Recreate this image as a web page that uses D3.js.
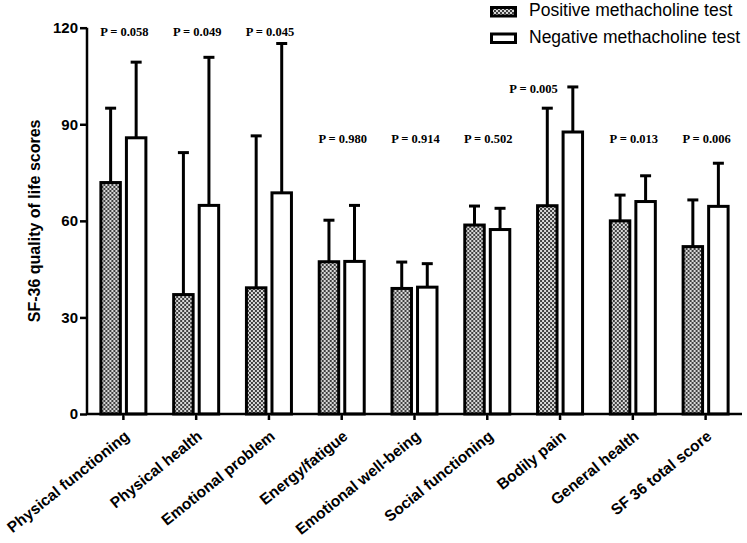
<!DOCTYPE html>
<html><head><meta charset="utf-8">
<script src="https://cdn.jsdelivr.net/npm/d3@7"></script>
<style>body{margin:0;background:#fff}svg{display:block}</style>
</head><body>
<svg id="c" width="747" height="543"></svg>
<script>
const categories = ["Physical functioning","Physical health","Emotional problem","Energy/fatigue","Emotional well-being","Social functioning","Bodily pain","General health","SF 36 total score"];
const positiveMean = [71.9, 37.1, 39.2, 47.3, 39.0, 58.7, 64.7, 60.0, 52.0];
const positiveSD   = [23.1, 44.1, 47.2, 12.9, 8.2, 5.9, 30.3, 8.0, 14.5];
const negativeMean = [85.8, 64.8, 68.7, 47.4, 39.4, 57.3, 87.6, 66.0, 64.5];
const negativeSD   = [23.5, 46.0, 46.4, 17.4, 7.3, 6.6, 14.0, 8.0, 13.4];
const pValues = ["P = 0.058","P = 0.049","P = 0.045","P = 0.980","P = 0.914","P = 0.502","P = 0.005","P = 0.013","P = 0.006"];
const pLevels = [118.4, 118.4, 118.4, 85.1, 85.1, 85.1, 100.6, 85.1, 85.1];
const yTicks = [0, 30, 60, 90, 120];
const seriesNames = ["Positive methacholine test","Negative methacholine test"];

const svg = d3.select("#c");
const defs = svg.append("defs");
const pat = defs.append("pattern").attr("id","chk").attr("patternUnits","userSpaceOnUse").attr("width",4).attr("height",4);
pat.append("rect").attr("width",4).attr("height",4).attr("fill","#d8d8d8");
pat.append("rect").attr("width",2).attr("height",2).attr("fill","#404040");
pat.append("rect").attr("x",2).attr("y",2).attr("width",2).attr("height",2).attr("fill","#404040");

const x = d3.scaleBand().domain(categories).range([87, 742]).padding(0);
const y = d3.scaleLinear().domain([0,120]).range([414, 27.7]);
const sub = d3.scaleBand().domain([0,1]).range([-24, 24]).paddingInner(0.12).paddingOuter(0);

const data = categories.map((c,i)=>({c,i,vals:[{s:0,m:positiveMean[i],sd:positiveSD[i]},{s:1,m:negativeMean[i],sd:negativeSD[i]}]}));

const g = svg.append("g");
const groups = g.selectAll("g.cat").data(data).join("g").attr("class","cat")
  .attr("transform",d=>`translate(${x(d.c)+x.bandwidth()/2},0)`);

const bw = sub.bandwidth();
groups.selectAll("line.err").data(d=>d.vals).join("line").attr("class","err")
  .attr("x1",v=>sub(v.s)+bw/2).attr("x2",v=>sub(v.s)+bw/2)
  .attr("y1",v=>y(v.m)).attr("y2",v=>y(v.m+v.sd))
  .attr("stroke","#000").attr("stroke-width",3);
groups.selectAll("line.cap").data(d=>d.vals).join("line").attr("class","cap")
  .attr("x1",v=>sub(v.s)+bw/2-5.5).attr("x2",v=>sub(v.s)+bw/2+5.5)
  .attr("y1",v=>y(v.m+v.sd)).attr("y2",v=>y(v.m+v.sd))
  .attr("stroke","#000").attr("stroke-width",3);
groups.selectAll("rect.bar").data(d=>d.vals).join("rect").attr("class","bar")
  .attr("x",v=>sub(v.s)+1.5).attr("width",bw-3)
  .attr("y",v=>y(v.m)).attr("height",v=>y(0)-y(v.m))
  .attr("fill",v=>v.s===0?"url(#chk)":"#fff")
  .attr("stroke","#000").attr("stroke-width",3);

// P values: centred on the category, unless the label's level cuts through an error bar
// (then it is set just left of the taller error bar)
function pBlocked(d){ return d.vals[1].m + d.vals[1].sd > pLevels[d.i] && d.vals[1].m < pLevels[d.i]; }
g.selectAll("text.p").data(data).join("text").attr("class","p")
  .attr("x",d=>{
    const cx = x(d.c)+x.bandwidth()/2;
    return pBlocked(d) ? cx + sub(1) + bw/2 - 15 : cx + 1;
  })
  .attr("y",d=>y(pLevels[d.i]))
  .attr("text-anchor",d=>pBlocked(d)?"end":"middle")
  .attr("dominant-baseline","middle")
  .attr("font-family","Liberation Serif, Times New Roman, serif").attr("font-weight","bold").attr("font-size",12.5)
  .text(d=>pValues[d.i]);

// axes
const yAxis = d3.axisLeft(y).tickValues(yTicks).tickSize(7).tickPadding(2);
const ya = svg.append("g").attr("transform","translate(87,0)").call(yAxis);
ya.select(".domain").attr("stroke","#000").attr("stroke-width",2.5).attr("d",`M0,${y(0)}V${y(120)}`);
ya.selectAll(".tick line").attr("stroke","#000").attr("stroke-width",2.5);
ya.selectAll(".tick text").attr("font-family","Liberation Sans, Arial, sans-serif").attr("font-weight","bold").attr("font-size",15).attr("fill","#000");

const xAxis = d3.axisBottom(x).tickSize(6).tickFormat("");
const xa = svg.append("g").attr("transform",`translate(0,${y(0)})`).call(xAxis);
xa.select(".domain").attr("stroke","#000").attr("stroke-width",2.5).attr("d","M87,0H742");
xa.selectAll(".tick line").attr("stroke","#000").attr("stroke-width",2.5);

svg.append("g").selectAll("text.xl").data(categories).join("text").attr("class","xl")
  .attr("transform",c=>`translate(${x(c)+x.bandwidth()/2+7},${y(0)+24}) rotate(-39)`)
  .attr("text-anchor","end")
  .attr("font-family","Liberation Sans, Arial, sans-serif").attr("font-weight","bold").attr("font-size",15.5)
  .text(c=>c);

svg.append("text").attr("transform",`translate(40,${(y(0)+y(120))/2}) rotate(-90)`)
  .attr("text-anchor","middle")
  .attr("font-family","Liberation Sans, Arial, sans-serif").attr("font-weight","bold").attr("font-size",16)
  .text("SF-36 quality of life scores");

// legend
const leg = svg.append("g");
seriesNames.forEach((n,i)=>{
  const yy = 11.5 + i*26.5;
  leg.append("rect").attr("x",491.5).attr("y",yy-4).attr("width",24).attr("height",8.5)
    .attr("fill",i===0?"url(#chk)":"#fff").attr("stroke","#000").attr("stroke-width",3);
  leg.append("text").attr("x",529).attr("y",yy).attr("dominant-baseline","middle")
    .attr("font-family","Liberation Sans, Arial, sans-serif").attr("font-size",17.5).text(n);
});
</script>
</body></html>
